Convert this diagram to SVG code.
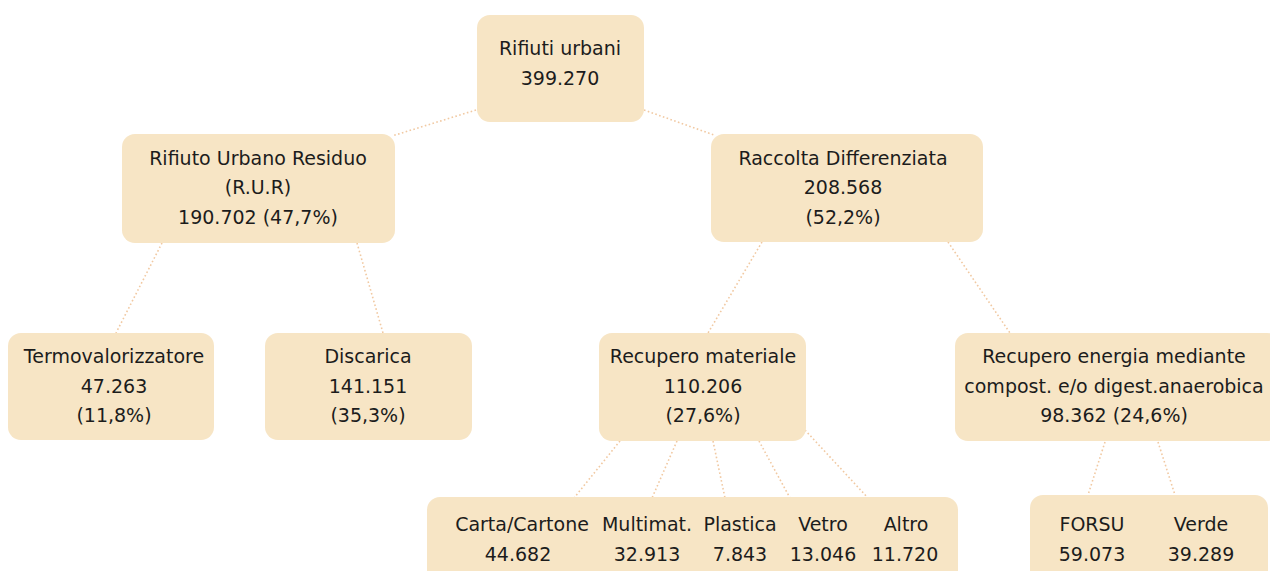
<svg xmlns="http://www.w3.org/2000/svg" width="1270" height="571" viewBox="0 0 1270 571">
  <style>
    .box { fill: #f7e5c5; }
    .lbl { font-family: "DejaVu Sans", Verdana, sans-serif; font-size: 19px; fill: #1c1c1c; text-anchor: middle; }
    .link { stroke: #f1c9a2; stroke-width: 1.6; stroke-dasharray: 1.6 2.4; fill: none; }
  </style>
  <rect width="1270" height="571" fill="#ffffff"/>

  <!-- connectors -->
  <g id="connectors">
    <line class="link" x1="476" y1="110" x2="392" y2="136"/>
    <line class="link" x1="644" y1="110" x2="714" y2="135"/>
    <line class="link" x1="162" y1="243" x2="116" y2="333"/>
    <line class="link" x1="357" y1="243" x2="383" y2="333"/>
    <line class="link" x1="762" y1="242" x2="708" y2="333"/>
    <line class="link" x1="948" y1="242" x2="1010" y2="333"/>
    <line class="link" x1="620" y1="441" x2="574" y2="498"/>
    <line class="link" x1="677" y1="441" x2="652" y2="498"/>
    <line class="link" x1="713" y1="441" x2="725" y2="498"/>
    <line class="link" x1="759" y1="441" x2="790" y2="498"/>
    <line class="link" x1="805" y1="430" x2="868" y2="498"/>
    <line class="link" x1="1105" y1="442" x2="1088" y2="495"/>
    <line class="link" x1="1158" y1="442" x2="1175" y2="495"/>
  </g>

  <g id="root">
    <rect class="box" x="477" y="15" width="167" height="107" rx="13"/>
    <text class="lbl" x="560" y="55">Rifiuti urbani</text>
    <text class="lbl" x="560" y="85">399.270</text>
  </g>

  <g id="rur">
    <rect class="box" x="122" y="134" width="273" height="109" rx="13"/>
    <text class="lbl" x="258" y="165">Rifiuto Urbano Residuo</text>
    <text class="lbl" x="258" y="194">(R.U.R)</text>
    <text class="lbl" x="258" y="224">190.702 (47,7%)</text>
  </g>

  <g id="differenziata">
    <rect class="box" x="711" y="134" width="272" height="108" rx="13"/>
    <text class="lbl" x="843" y="165">Raccolta Differenziata</text>
    <text class="lbl" x="843" y="194">208.568</text>
    <text class="lbl" x="843" y="224">(52,2%)</text>
  </g>

  <g id="termovalorizzatore">
    <rect class="box" x="8" y="333" width="206" height="107" rx="13"/>
    <text class="lbl" x="114" y="363">Termovalorizzatore</text>
    <text class="lbl" x="114" y="393">47.263</text>
    <text class="lbl" x="114" y="422">(11,8%)</text>
  </g>

  <g id="discarica">
    <rect class="box" x="265" y="333" width="207" height="107" rx="13"/>
    <text class="lbl" x="368" y="363">Discarica</text>
    <text class="lbl" x="368" y="393">141.151</text>
    <text class="lbl" x="368" y="422">(35,3%)</text>
  </g>

  <g id="recupero-materiale">
    <rect class="box" x="599" y="333" width="207" height="108" rx="13"/>
    <text class="lbl" x="703" y="363">Recupero materiale</text>
    <text class="lbl" x="703" y="393">110.206</text>
    <text class="lbl" x="703" y="422">(27,6%)</text>
  </g>

  <g id="recupero-energia">
    <rect class="box" x="955" y="333" width="325" height="108" rx="13"/>
    <text class="lbl" x="1114" y="363">Recupero energia mediante</text>
    <text class="lbl" x="1114" y="393">compost. e/o digest.anaerobica</text>
    <text class="lbl" x="1114" y="422">98.362 (24,6%)</text>
  </g>

  <g id="materiali">
    <rect class="box" x="427" y="497" width="531" height="90" rx="13"/>
    <text class="lbl" x="522" y="531">Carta/Cartone</text>
    <text class="lbl" x="518" y="561">44.682</text>
    <text class="lbl" x="647" y="531">Multimat.</text>
    <text class="lbl" x="647" y="561">32.913</text>
    <text class="lbl" x="740" y="531">Plastica</text>
    <text class="lbl" x="740" y="561">7.843</text>
    <text class="lbl" x="823" y="531">Vetro</text>
    <text class="lbl" x="823" y="561">13.046</text>
    <text class="lbl" x="906" y="531">Altro</text>
    <text class="lbl" x="905" y="561">11.720</text>
  </g>

  <g id="organico">
    <rect class="box" x="1030" y="495" width="238" height="92" rx="13"/>
    <text class="lbl" x="1092" y="531">FORSU</text>
    <text class="lbl" x="1092" y="561">59.073</text>
    <text class="lbl" x="1201" y="531">Verde</text>
    <text class="lbl" x="1201" y="561">39.289</text>
  </g>
</svg>
